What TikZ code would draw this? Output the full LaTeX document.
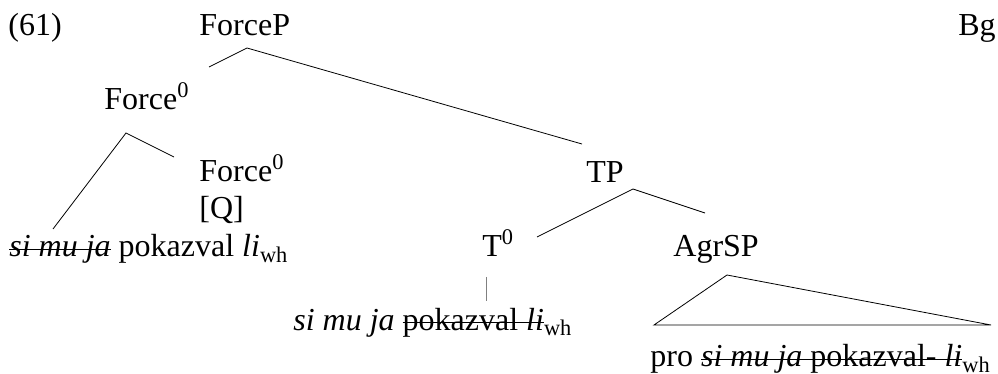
\documentclass[tikz,border=0pt]{standalone}
\usepackage{fontspec}
\setmainfont{Liberation Serif}
\usepackage{tikz}
\newcommand\strk[1]{\setbox0\hbox{#1}\rlap{\rule[0.45ex]{\wd0}{0.6pt}}\box0\relax}

\begin{document}
\begin{tikzpicture}[x=0.5pt,y=-0.5pt,every node/.style={inner sep=0pt,anchor=base west,font=\fontsize{16}{19}\selectfont}]
\useasboundingbox (0,0) rectangle (998,374);
\node (ex) at (8,36) {(61)};
\node (forcep) at (199,36) {ForceP};
\node [anchor=base east] (lang) at (996,36) {Bg};
\node (force) at (104,110) {Force\textsuperscript{0}};
\node (forcehead) at (199,182) {Force\textsuperscript{0}};
\node (q) at (199,219) {[Q]};
\node (spec) at (9,257) {\strk{\textit{si mu ja}} pokazval \textit{li}\textsubscript{wh}};
\node (tp) at (586,183) {TP};
\node (t) at (482,257) {T\textsuperscript{0}};
\node (tword) at (293,330) {\textit{si mu ja} \strk{pokazval \textit{li}}\textsubscript{wh}};
\node (agrsp) at (673,257) {AgrSP};
\node (agrword) at (650,367) {pro \strk{\textit{si mu ja} pokazval- \textit{li}}\textsubscript{wh}};

\coordinate (fp) at (247,48);
\coordinate (fp-l) at (209,67);
\coordinate (fp-r) at (582,144);
\draw (fp-l) -- (fp) -- (fp-r);
\coordinate (f) at (126,133);
\coordinate (f-l) at (53,229);
\coordinate (f-r) at (174,157);
\draw (f-l) -- (f) -- (f-r);
\coordinate (tpx) at (633,189);
\coordinate (tp-l) at (537,237);
\coordinate (tp-r) at (705,213);
\draw (tp-l) -- (tpx) -- (tp-r);
\coordinate (t-top) at (486,277);
\coordinate (t-bot) at (486,301);
\draw [gray] (t-top) -- (t-bot);
\coordinate (agr) at (727,275);
\coordinate (agr-l) at (654,325);
\coordinate (agr-r) at (991,325);
\draw (agr) -- (agr-l) -- (agr-r) -- cycle;
\end{tikzpicture}
\end{document}
